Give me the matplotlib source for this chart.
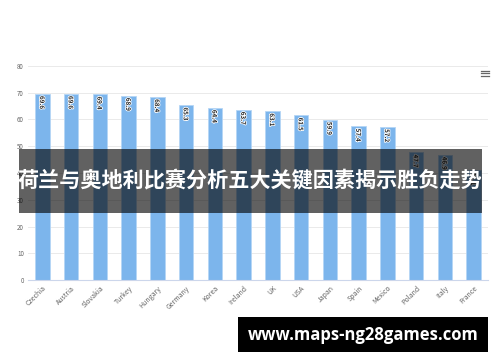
import numpy as np
import matplotlib.pyplot as plt
import matplotlib.patheffects as pe
from matplotlib.patches import Rectangle

countries = ['Czechia', 'Austria', 'Slovakia', 'Turkey', 'Hungary', 'Germany', 'Korea',
             'Ireland', 'UK', 'USA', 'Japan', 'Spain', 'Mexico', 'Poland', 'Italy', 'France']
values = [69.6, 69.6, 69.4, 68.9, 68.4, 65.3, 64.4, 63.7, 63.1, 61.5, 59.9, 57.4, 57.2,
          47.7, 46.9, 41.1]
yticks = [0, 10, 20, 30, 40, 50, 60, 70, 80]
title = '荷兰与奥地利比赛分析五大关键因素揭示胜负走势'
site = 'www.maps-ng28games.com'

plt.rcParams['font.family'] = ['Noto Sans CJK SC', 'DejaVu Sans']

fig = plt.figure(figsize=(5, 3.62), dpi=100)
ax = fig.add_axes([0.056, 0.2265, 0.92, 0.5912])

x = np.arange(len(countries))
ax.bar(x, values, width=0.5, color='#7cb5ec', edgecolor='#b5d6f5', linewidth=0.6, zorder=2)

for xi, v in zip(x, values):
    ax.text(xi, v - 0.8, f'{v:.1f}', rotation=-90, ha='center', va='top', fontsize=4.5,
            color='#222222', fontweight='bold', zorder=3,
            path_effects=[pe.withStroke(linewidth=1.2, foreground='white')])

ax.set_xlim(-0.5, len(countries) - 0.5)
ax.set_ylim(0, 80)
ax.set_yticks(yticks)
ax.set_yticklabels([str(t) for t in yticks], fontsize=4.5, color='#666666')
ax.set_xticks(x)
ax.set_xticklabels(countries, rotation=45, ha='right', rotation_mode='anchor',
                   fontsize=5, color='#666666')
ax.tick_params(axis='both', length=0, pad=3)
ax.grid(axis='y', color='#e6e6e6', linewidth=0.6, zorder=0)
for s in ['top', 'right', 'left']:
    ax.spines[s].set_visible(False)
ax.spines['bottom'].set_color('#ccd6eb')
ax.spines['bottom'].set_linewidth(0.8)

# menu icon
for yy in [0.803, 0.797, 0.791]:
    fig.add_artist(plt.Line2D([0.962, 0.978], [yy, yy], color='#666666', linewidth=0.9))

# title banner
fig.add_artist(Rectangle((0.038, 1 - 213 / 362), 0.926, 64 / 362, transform=fig.transFigure,
                         facecolor='black', alpha=0.62, zorder=5))
fig.text(0.5, 1 - 181 / 362, title, ha='center', va='center', fontsize=15.2,
         fontweight='bold', color='white', zorder=6)

# site box
fig.add_artist(Rectangle((0.476, 1 - 352 / 362), 0.5, 35 / 362, transform=fig.transFigure,
                         facecolor='black', zorder=5))
fig.text(0.726, 1 - 335 / 362, site, ha='center', va='center', fontsize=12,
         fontweight='bold', color='white', family=['Open Sans', 'DejaVu Sans'], zorder=6)

fig.savefig('out.png', dpi=100)
